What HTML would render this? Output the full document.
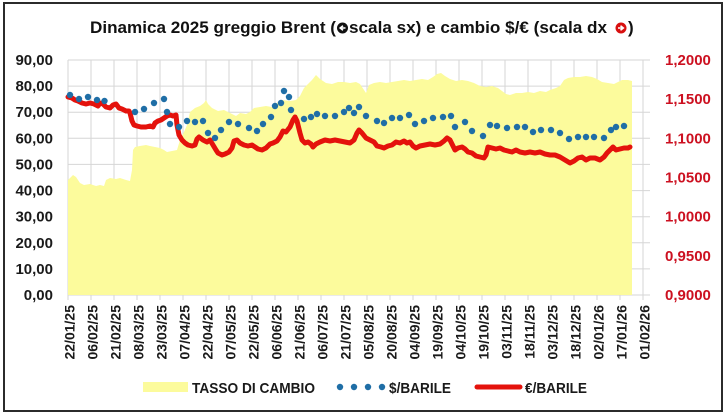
<!DOCTYPE html>
<html><head><meta charset="utf-8"><style>
html,body{margin:0;padding:0;background:#fff;}
svg{display:block;}
text{font-family:"Liberation Sans",sans-serif;font-weight:bold;}
</style></head><body>
<svg width="725" height="414" viewBox="0 0 725 414" xmlns="http://www.w3.org/2000/svg">
<rect x="0" y="0" width="725" height="414" fill="#fff"/>
<rect x="4" y="3" width="718" height="408" fill="#fff" stroke="#2b2b2b" stroke-width="2"/>

<!-- title -->
<text x="90" y="33" font-size="17" fill="#111" textLength="246" lengthAdjust="spacingAndGlyphs">Dinamica 2025 greggio Brent (</text>
<circle cx="342.5" cy="28" r="5.5" fill="#111"/>
<path d="M345.5 28 H341 M343 25.8 L340.2 28 L343 30.2" stroke="#fff" stroke-width="1.6" fill="none"/>
<text x="349" y="33" font-size="17" fill="#111" textLength="258" lengthAdjust="spacingAndGlyphs">scala sx) e cambio $/€ (scala dx</text>
<circle cx="621" cy="28" r="5.5" fill="#d81010"/>
<path d="M618 28 H622.5 M620.5 25.8 L623.3 28 L620.5 30.2" stroke="#fff" stroke-width="1.6" fill="none"/>
<text x="628" y="33" font-size="17" fill="#111">)</text>

<!-- gridlines -->
<g stroke="#d6d6d6" stroke-width="1">
<line x1="68" y1="60" x2="650" y2="60"/>
<line x1="68" y1="86.1" x2="650" y2="86.1"/>
<line x1="68" y1="112.2" x2="650" y2="112.2"/>
<line x1="68" y1="138.3" x2="650" y2="138.3"/>
<line x1="68" y1="164.4" x2="650" y2="164.4"/>
<line x1="68" y1="190.6" x2="650" y2="190.6"/>
<line x1="68" y1="216.7" x2="650" y2="216.7"/>
<line x1="68" y1="242.8" x2="650" y2="242.8"/>
<line x1="68" y1="268.9" x2="650" y2="268.9"/>
<line x1="68" y1="295" x2="650" y2="295"/>
<line x1="68" y1="60" x2="68" y2="300"/>
<line x1="91" y1="60" x2="91" y2="300"/>
<line x1="114" y1="60" x2="114" y2="300"/>
<line x1="137" y1="60" x2="137" y2="300"/>
<line x1="160" y1="60" x2="160" y2="300"/>
<line x1="183" y1="60" x2="183" y2="300"/>
<line x1="206" y1="60" x2="206" y2="300"/>
<line x1="229" y1="60" x2="229" y2="300"/>
<line x1="252" y1="60" x2="252" y2="300"/>
<line x1="275" y1="60" x2="275" y2="300"/>
<line x1="298" y1="60" x2="298" y2="300"/>
<line x1="321" y1="60" x2="321" y2="300"/>
<line x1="344" y1="60" x2="344" y2="300"/>
<line x1="367" y1="60" x2="367" y2="300"/>
<line x1="390" y1="60" x2="390" y2="300"/>
<line x1="413" y1="60" x2="413" y2="300"/>
<line x1="436" y1="60" x2="436" y2="300"/>
<line x1="459" y1="60" x2="459" y2="300"/>
<line x1="482" y1="60" x2="482" y2="300"/>
<line x1="505" y1="60" x2="505" y2="300"/>
<line x1="528" y1="60" x2="528" y2="300"/>
<line x1="551" y1="60" x2="551" y2="300"/>
<line x1="574" y1="60" x2="574" y2="300"/>
<line x1="597" y1="60" x2="597" y2="300"/>
<line x1="620" y1="60" x2="620" y2="300"/>
<line x1="643" y1="60" x2="643" y2="300"/>
</g>

<!-- yellow area -->
<polygon fill="#fcfb9c" points="68,295 68,180 70,178 73,175 76,177 80,183 84,185 90,184 96,186 100,185 104,186 106,180 110,178 116,179 120,178 126,180 130,181 132,170 133,150 135,147 140,146 146,145 150,146 155,147 160,148 164,150 167,152 172,151 177,150 180,140 184,132 187,125 190,112 195,108 200,106 204,103 206,100 208,104 212,108 218,111 224,110 228,112 232,114 236,116 240,113 246,114 250,112 254,108 260,107 266,106 272,107 277,103 282,100 290,101 296,100 300,96 304,88 308,84 312,80 316,75 320,79 326,83 332,84 338,82 344,82 350,83 356,82 360,84 364,90 366,93 369,85 374,83 380,82 386,83 392,82 398,81 404,80 410,81 416,80 422,79 428,80 433,77 437,74 441,73 445,76 450,79 456,81 462,80 468,81 474,83 480,86 486,87 492,86 498,88 502,91 506,94 510,95 516,93 522,93 528,92 534,93 540,91 546,92 550,90 556,88 560,86 564,80 568,78 574,77 580,77 586,76 592,77 597,79 602,82 608,83 614,84 618,82 622,80 628,80 632,81 632,295"/>

<!-- red line -->
<polyline fill="none" stroke="#e4120c" stroke-width="5" stroke-linejoin="round" stroke-linecap="round" points="68,97 72,98 75,100 78,101 82,103 86,104 90,103 94,104 98,106 100,103 103,104 106,107 110,108 113,105 116,104 119,108 122,109 126,111 129,111 130,113 132,121 134,125 137,126 141,127 146,127 150,126 153,127 155,123 158,121 161,120 164,118 167,116 170,115 173,116 176,115 177,125 179,135 182,140 185,143 188,145 192,146 195,145 197,139 199,137 203,140 207,142 210,140 213,145 216,150 218,153 222,155 225,154 229,152 232,148 234,141 237,140 240,143 244,145 248,146 252,145 255,147 258,149 262,150 266,148 270,144 273,143 277,141 280,137 283,131 286,132 290,127 293,120 295,117 297,121 300,133 302,140 305,143 308,142 311,144 313,147 316,144 320,142 325,140 330,141 335,140 340,141 345,142 350,143 354,140 357,133 359,130 362,133 366,138 370,140 374,142 377,146 381,147 384,148 388,146 392,145 396,142 400,143 404,141 407,143 410,142 413,146 416,148 420,146 425,145 430,144 435,145 440,144 444,141 447,138 450,140 453,146 455,150 458,148 462,147 465,149 468,152 472,153 476,156 480,157 484,158 486,155 488,147 492,148 496,149 500,148 504,150 508,151 512,152 516,150 520,152 525,153 530,152 535,153 540,152 545,154 550,155 555,155 560,157 565,160 570,163 574,161 578,158 582,157 586,160 590,158 595,158 600,160 604,157 607,153 610,150 613,147 616,150 620,149 624,148 628,148 630,147"/>

<!-- blue dots -->
<g fill="#1f6ea6">
<circle cx="70" cy="95" r="3.2"/><circle cx="79" cy="99" r="3.2"/><circle cx="88" cy="97" r="3.2"/><circle cx="97" cy="100" r="3.2"/><circle cx="104.5" cy="101" r="3.2"/>
<circle cx="135" cy="112" r="3.2"/><circle cx="144" cy="109" r="3.2"/><circle cx="154" cy="103" r="3.2"/><circle cx="164" cy="99" r="3.2"/><circle cx="167" cy="112" r="3.2"/><circle cx="170" cy="124" r="3.2"/>
<circle cx="179" cy="127" r="3.2"/><circle cx="187" cy="121" r="3.2"/><circle cx="195" cy="122" r="3.2"/><circle cx="203" cy="121" r="3.2"/><circle cx="208" cy="133" r="3.2"/><circle cx="215" cy="138" r="3.2"/>
<circle cx="221" cy="130" r="3.2"/><circle cx="229" cy="122" r="3.2"/><circle cx="238" cy="124" r="3.2"/><circle cx="249" cy="128" r="3.2"/><circle cx="257" cy="131" r="3.2"/><circle cx="263" cy="124" r="3.2"/>
<circle cx="271" cy="117" r="3.2"/><circle cx="275" cy="106" r="3.2"/><circle cx="281" cy="103" r="3.2"/><circle cx="284" cy="91" r="3.2"/><circle cx="289" cy="97" r="3.2"/><circle cx="291" cy="110" r="3.2"/>
<circle cx="304" cy="119" r="3.2"/><circle cx="311" cy="117" r="3.2"/><circle cx="317" cy="114" r="3.2"/><circle cx="325" cy="116" r="3.2"/><circle cx="335" cy="116" r="3.2"/><circle cx="344" cy="112" r="3.2"/>
<circle cx="349" cy="108" r="3.2"/><circle cx="354" cy="113" r="3.2"/><circle cx="359" cy="107" r="3.2"/><circle cx="366" cy="116" r="3.2"/><circle cx="377" cy="121" r="3.2"/><circle cx="384" cy="123" r="3.2"/>
<circle cx="392" cy="118" r="3.2"/><circle cx="400" cy="118" r="3.2"/><circle cx="409" cy="115" r="3.2"/><circle cx="415" cy="124" r="3.2"/><circle cx="424" cy="121" r="3.2"/><circle cx="433" cy="118" r="3.2"/>
<circle cx="443" cy="117" r="3.2"/><circle cx="451" cy="116" r="3.2"/><circle cx="455" cy="127" r="3.2"/><circle cx="465" cy="122" r="3.2"/><circle cx="472" cy="131" r="3.2"/><circle cx="483" cy="136" r="3.2"/>
<circle cx="490" cy="125" r="3.2"/><circle cx="497" cy="126" r="3.2"/><circle cx="507" cy="128" r="3.2"/><circle cx="517" cy="127" r="3.2"/><circle cx="525" cy="127" r="3.2"/><circle cx="533" cy="132" r="3.2"/>
<circle cx="541" cy="130" r="3.2"/><circle cx="551" cy="130" r="3.2"/><circle cx="560" cy="133" r="3.2"/><circle cx="569" cy="139" r="3.2"/><circle cx="578" cy="137" r="3.2"/><circle cx="586" cy="137" r="3.2"/>
<circle cx="594" cy="137" r="3.2"/><circle cx="604" cy="138" r="3.2"/><circle cx="611" cy="130" r="3.2"/><circle cx="616" cy="127" r="3.2"/><circle cx="624" cy="126" r="3.2"/>
</g>

<!-- left axis labels -->
<g font-size="15" fill="#1a1a1a" text-anchor="end">
<text x="53" y="65">90,00</text>
<text x="53" y="91.1">80,00</text>
<text x="53" y="117.2">70,00</text>
<text x="53" y="143.3">60,00</text>
<text x="53" y="169.4">50,00</text>
<text x="53" y="195.6">40,00</text>
<text x="53" y="221.7">30,00</text>
<text x="53" y="247.8">20,00</text>
<text x="53" y="273.9">10,00</text>
<text x="53" y="300">0,00</text>
</g>

<!-- right axis labels -->
<g font-size="15" fill="#cc1020">
<text x="665" y="65">1,2000</text>
<text x="665" y="104.2">1,1500</text>
<text x="665" y="143.3">1,1000</text>
<text x="665" y="182.5">1,0500</text>
<text x="665" y="221.7">1,0000</text>
<text x="665" y="260.8">0,9500</text>
<text x="665" y="300">0,9000</text>
</g>

<!-- x axis labels -->
<g font-size="14" fill="#1a1a1a" text-anchor="end">
<text transform="translate(74.5,305) rotate(-90)">22/01/25</text>
<text transform="translate(97.5,305) rotate(-90)">06/02/25</text>
<text transform="translate(120.5,305) rotate(-90)">21/02/25</text>
<text transform="translate(143.5,305) rotate(-90)">08/03/25</text>
<text transform="translate(166.5,305) rotate(-90)">23/03/25</text>
<text transform="translate(189.5,305) rotate(-90)">07/04/25</text>
<text transform="translate(212.5,305) rotate(-90)">22/04/25</text>
<text transform="translate(235.5,305) rotate(-90)">07/05/25</text>
<text transform="translate(258.5,305) rotate(-90)">22/05/25</text>
<text transform="translate(281.5,305) rotate(-90)">06/06/25</text>
<text transform="translate(304.5,305) rotate(-90)">21/06/25</text>
<text transform="translate(327.5,305) rotate(-90)">06/07/25</text>
<text transform="translate(350.5,305) rotate(-90)">21/07/25</text>
<text transform="translate(373.5,305) rotate(-90)">05/08/25</text>
<text transform="translate(396.5,305) rotate(-90)">20/08/25</text>
<text transform="translate(419.5,305) rotate(-90)">04/09/25</text>
<text transform="translate(442.5,305) rotate(-90)">19/09/25</text>
<text transform="translate(465.5,305) rotate(-90)">04/10/25</text>
<text transform="translate(488.5,305) rotate(-90)">19/10/25</text>
<text transform="translate(511.5,305) rotate(-90)">03/11/25</text>
<text transform="translate(534.5,305) rotate(-90)">18/11/25</text>
<text transform="translate(557.5,305) rotate(-90)">03/12/25</text>
<text transform="translate(580.5,305) rotate(-90)">18/12/25</text>
<text transform="translate(603.5,305) rotate(-90)">02/01/26</text>
<text transform="translate(626.5,305) rotate(-90)">17/01/26</text>
<text transform="translate(649.5,305) rotate(-90)">01/02/26</text>
</g>

<!-- legend -->
<rect x="143" y="382" width="45" height="10" fill="#fcfb9c"/>
<text x="192" y="393" font-size="15" fill="#1a1a1a" textLength="123" lengthAdjust="spacingAndGlyphs">TASSO DI CAMBIO</text>
<g fill="#1f6ea6">
<circle cx="340" cy="387" r="3.2"/><circle cx="354" cy="387" r="3.2"/><circle cx="368" cy="387" r="3.2"/><circle cx="382" cy="387" r="3.2"/>
</g>
<text x="389" y="393" font-size="15" fill="#1a1a1a" textLength="62" lengthAdjust="spacingAndGlyphs">$/BARILE</text>
<line x1="477" y1="387" x2="520" y2="387" stroke="#e4120c" stroke-width="5" stroke-linecap="round"/>
<text x="525" y="393" font-size="15" fill="#1a1a1a" textLength="62" lengthAdjust="spacingAndGlyphs">€/BARILE</text>
</svg>
</body></html>
